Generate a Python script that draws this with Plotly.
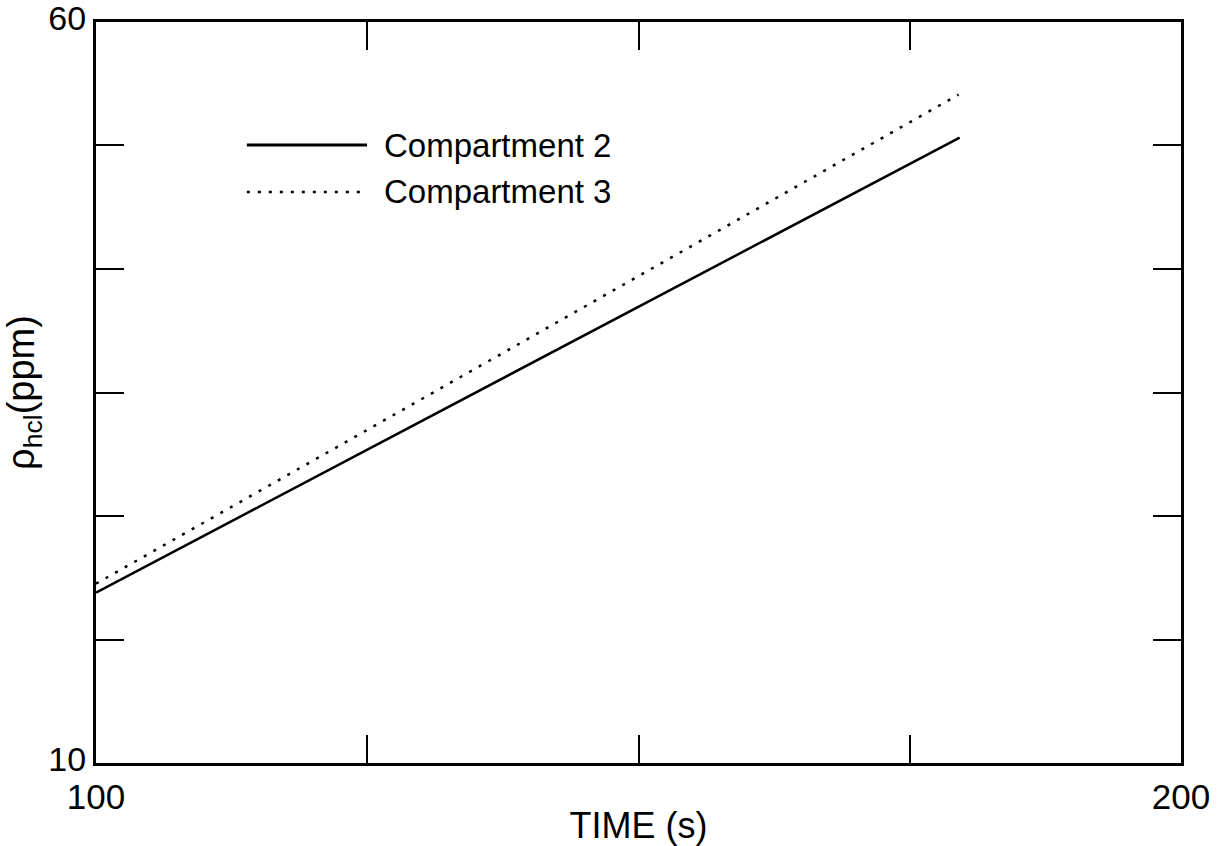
import plotly.graph_objects as go

# ---- data ----
time_c2 = [100, 179.6]
rho_c2 = [21.5, 52.2]
time_c3 = [100, 179.5]
rho_c3 = [22.1, 55.1]
series_names = ["Compartment 2", "Compartment 3"]

x_tickvals = [100, 125, 150, 175, 200]
x_ticktext = ["100", " ", " ", " ", "200"]
y_tickvals = [10, 18.33, 26.67, 35, 43.33, 51.67, 60]
y_ticktext = ["10", " ", " ", " ", " ", " ", "60"]

FONT = "Liberation Sans, Arial, Helvetica, sans-serif"

fig = go.Figure()
fig.add_trace(go.Scatter(x=time_c2, y=rho_c2, mode="lines", name=series_names[0],
                         line=dict(color="black", width=2.5)))
fig.add_trace(go.Scatter(x=time_c3, y=rho_c3, mode="lines", name=series_names[1],
                         line=dict(color="black", width=2.5, dash="3px,8px")))

# manual legend (long line samples like the reference)
legend_rows = [(0.834, "solid"), (0.7706, "3px,8px")]
for (yp, dash), name in zip(legend_rows, series_names):
    fig.add_shape(type="line", xref="paper", yref="paper", x0=0.139, x1=0.2498, y0=yp, y1=yp,
                  line=dict(color="black", width=3 if dash == "solid" else 2.5, dash=dash))
    fig.add_annotation(xref="paper", yref="paper", x=0.2636, y=yp, text=name, showarrow=False,
                       xanchor="left", yanchor="middle", font=dict(family=FONT, size=33, color="black"))

axis_common = dict(showline=True, linewidth=3, linecolor="black", mirror="ticks",
                   ticks="inside", ticklen=28, tickwidth=2, tickcolor="black",
                   showgrid=False, zeroline=False, automargin=False,
                   ticklabeloverflow="allow")

fig.update_xaxes(range=[100, 200], tickmode="array", tickvals=x_tickvals, ticktext=x_ticktext,
                 ticklabelstandoff=1, tickfont=dict(family=FONT, size=35, color="black"),
                 title=dict(text="TIME (s)", font=dict(family=FONT, size=36, color="black"), standoff=0),
                 **axis_common)
fig.update_yaxes(range=[10, 60], tickmode="array", tickvals=y_tickvals, ticktext=y_ticktext,
                 ticklabelshift=-4, tickfont=dict(family=FONT, size=34, color="black"),
                 title=dict(text="ρ<sub>hcl</sub>(ppm)", font=dict(family=FONT, size=38, color="black"), standoff=10),
                 **axis_common)

fig.update_layout(width=1217, height=846, showlegend=False,
                  margin=dict(l=96, r=36, t=22, b=83),
                  plot_bgcolor="white", paper_bgcolor="white",
                  font=dict(family=FONT, color="black"))

fig.write_html("out.html", config={"displayModeBar": False},
               post_script="document.body.style.margin='0';")
